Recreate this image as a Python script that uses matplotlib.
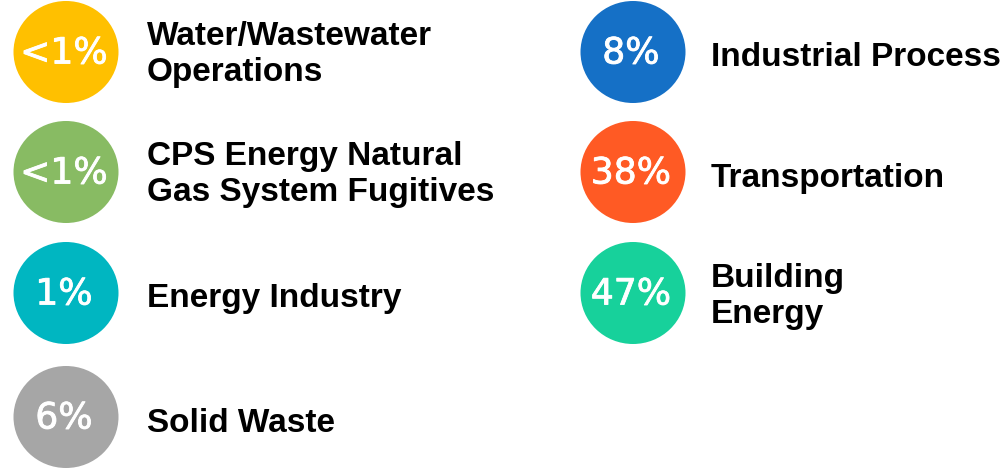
import matplotlib
matplotlib.use("Agg")
import matplotlib.pyplot as plt
import matplotlib.patheffects as pe
from matplotlib.patches import Ellipse

# Data
categories = ["Water/Wastewater\nOperations",
              "CPS Energy Natural\nGas System Fugitives",
              "Energy Industry",
              "Solid Waste",
              "Industrial Process",
              "Transportation",
              "Building\nEnergy"]
shares = ["<1%", "<1%", "1%", "6%", "8%", "38%", "47%"]
colors = ["#FFC000", "#88BB63", "#00B6C1", "#A6A6A6", "#1570C6", "#FF5A24", "#17D19B"]

# Layout (pixel space)
columns = [0, 0, 0, 0, 1, 1, 1]
rows = [0, 1, 2, 3, 0, 1, 2]
col_cx = [66, 633]
col_tx = [147, 711]
row_cy = [52, 172, 293, 417]

W, H = 1004, 468
fig = plt.figure(figsize=(W / 100, H / 100), dpi=100)
ax = fig.add_axes([0, 0, 1, 1])
ax.set_xlim(0, W)
ax.set_ylim(H, 0)
ax.axis("off")

cap = 23
line_gap = 36
for cat, val, col, c, r in zip(categories, shares, colors, columns, rows):
    cx, cy = col_cx[c], row_cy[r]
    ax.add_patch(Ellipse((cx, cy), 105, 102, facecolor=col, edgecolor="none"))
    ax.text(cx - 2, cy - 2, val, color="white", fontsize=26, ha="center",
            va="center_baseline", family="DejaVu Sans",
            path_effects=[pe.withStroke(linewidth=0.6, foreground="white")])
    lines = cat.split("\n")
    n = len(lines)
    if n == 1:
        base0 = cy + cap / 2 + 3
    else:
        base0 = cy + cap / 2 - line_gap / 2 * (n - 1)
    for i, ln in enumerate(lines):
        ax.text(col_tx[c], base0 + i * line_gap, ln, color="black", fontsize=24,
                fontweight="bold", ha="left", va="baseline", family="Liberation Sans")

fig.savefig("out.png", dpi=100)
